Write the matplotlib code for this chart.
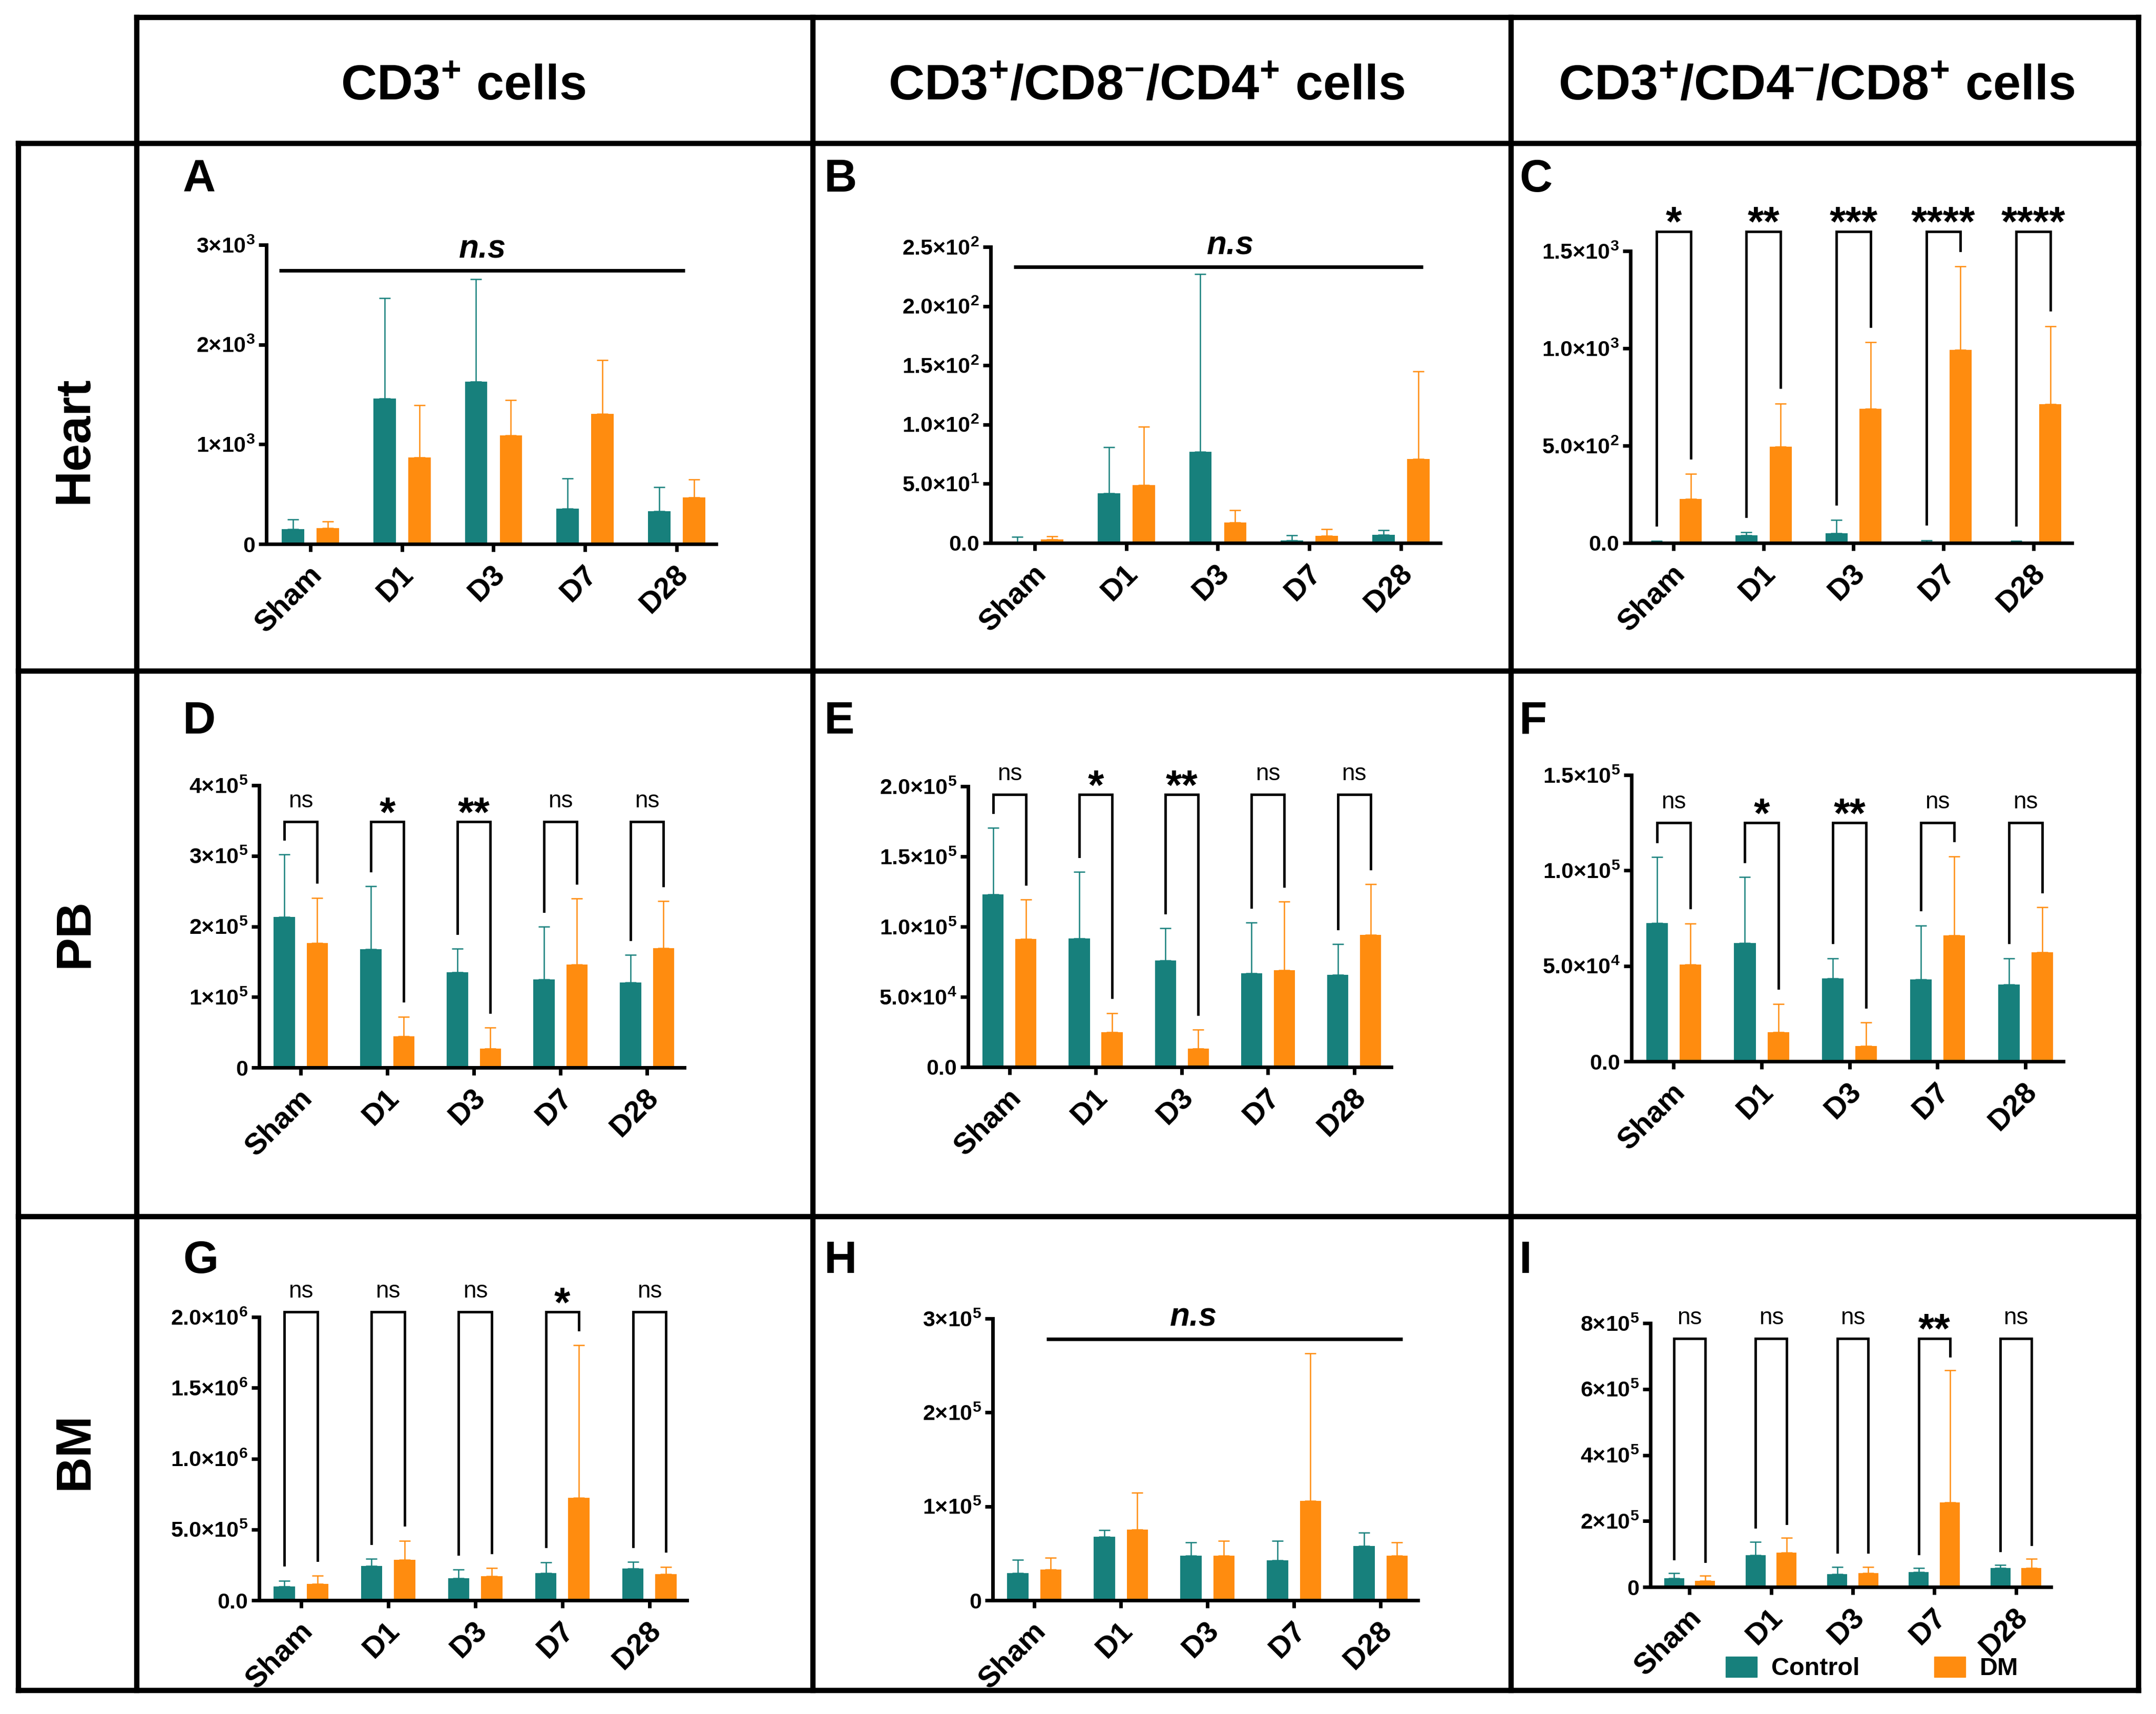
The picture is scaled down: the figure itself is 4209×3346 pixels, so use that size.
import numpy as np
import matplotlib
matplotlib.use('Agg')
import matplotlib.pyplot as plt
from matplotlib.patches import Patch
from matplotlib.transforms import ScaledTranslation

plt.rcParams['font.family'] = ['Liberation Sans', 'DejaVu Sans']
plt.rcParams['font.weight'] = 'bold'
plt.rcParams['mathtext.default'] = 'regular'

W, H = 4209, 3346
teal = '#17807C'
orange = '#FF8C0F'

groups = ['Sham', 'D1', 'D3', 'D7', 'D28']
col_titles = ['CD3$^{+}$ cells', 'CD3$^{+}$/CD8$^{-}$/CD4$^{+}$ cells',
              'CD3$^{+}$/CD4$^{-}$/CD8$^{+}$ cells']
row_titles = ['Heart', 'PB', 'BM']

# ---- data: mean and SD per group (Control / DM) ----
# A  Heart CD3+
a_ctrl = [150, 1460, 1630, 355, 330]
a_ctrl_sd = [95, 1005, 1025, 305, 240]
a_dm = [160, 870, 1090, 1305, 465]
a_dm_sd = [65, 520, 355, 540, 180]
# B  Heart CD4+
b_ctrl = [1, 42, 77, 2, 7]
b_ctrl_sd = [4, 39, 150, 4.5, 4]
b_dm = [3, 49, 17.5, 6, 71]
b_dm_sd = [2.5, 49, 10, 5.5, 74]
# C  Heart CD8+
c_ctrl = [5, 40, 50, 6, 4]
c_ctrl_sd = [5, 15, 68, 8, 6]
c_dm = [225, 494, 690, 992, 713]
c_dm_sd = [129, 223, 341, 429, 401]
# D  PB CD3+
d_ctrl = [213500, 167800, 135000, 125100, 120200]
d_ctrl_sd = [88300, 88900, 33300, 74600, 39300]
d_dm = [176700, 44200, 26500, 145800, 168800]
d_dm_sd = [63800, 27900, 29900, 93700, 66800]
# E  PB CD4+
e_ctrl = [123000, 91600, 76000, 66700, 65700]
e_ctrl_sd = [47400, 47400, 22800, 36300, 22000]
e_dm = [91400, 24900, 13300, 69100, 94300]
e_dm_sd = [27900, 13600, 13400, 48700, 36100]
# F  PB CD8+
f_ctrl = [72550, 62000, 43350, 43000, 40300]
f_ctrl_sd = [34450, 34500, 10550, 28100, 13600]
f_dm = [50600, 15400, 8000, 66000, 57100]
f_dm_sd = [21600, 14700, 12300, 41400, 23600]
# G  BM CD3+
g_ctrl = [99000, 241000, 157000, 193000, 225000]
g_ctrl_sd = [40000, 51000, 59000, 75000, 45000]
g_dm = [117000, 286000, 169000, 724000, 184000]
g_dm_sd = [56000, 134000, 58000, 1076000, 52000]
# H  BM CD4+
h_ctrl = [28800, 67500, 47200, 42400, 57700]
h_ctrl_sd = [14300, 7200, 14600, 21100, 14200]
h_dm = [32900, 75300, 47200, 105900, 47200]
h_dm_sd = [12600, 39100, 16300, 156800, 14600]
# I  BM CD8+
i_ctrl = [27000, 96600, 38600, 45400, 58000]
i_ctrl_sd = [14500, 40600, 22300, 11600, 8700]
i_dm = [19300, 104300, 42500, 256000, 58000]
i_dm_sd = [14500, 44500, 18400, 401000, 27000]

# significance marks
c_sig = ['*', '**', '***', '****', '****']
d_sig = ['ns', '*', '**', 'ns', 'ns']
e_sig = ['ns', '*', '**', 'ns', 'ns']
f_sig = ['ns', '*', '**', 'ns', 'ns']
g_sig = ['ns', 'ns', 'ns', '*', 'ns']
i_sig = ['ns', 'ns', 'ns', '**', 'ns']

# y ticks
a_yticks = [0, 1000, 2000, 3000]
a_ylabels = ['0', '1×10$^{3}$', '2×10$^{3}$', '3×10$^{3}$']
b_yticks = [0, 50, 100, 150, 200, 250]
b_ylabels = ['0.0', '5.0×10$^{1}$', '1.0×10$^{2}$', '1.5×10$^{2}$', '2.0×10$^{2}$', '2.5×10$^{2}$']
c_yticks = [0, 500, 1000, 1500]
c_ylabels = ['0.0', '5.0×10$^{2}$', '1.0×10$^{3}$', '1.5×10$^{3}$']
d_yticks = [0, 1e5, 2e5, 3e5, 4e5]
d_ylabels = ['0', '1×10$^{5}$', '2×10$^{5}$', '3×10$^{5}$', '4×10$^{5}$']
e_yticks = [0, 5e4, 1e5, 1.5e5, 2e5]
e_ylabels = ['0.0', '5.0×10$^{4}$', '1.0×10$^{5}$', '1.5×10$^{5}$', '2.0×10$^{5}$']
f_yticks = [0, 5e4, 1e5, 1.5e5]
f_ylabels = ['0.0', '5.0×10$^{4}$', '1.0×10$^{5}$', '1.5×10$^{5}$']
g_yticks = [0, 5e5, 1e6, 1.5e6, 2e6]
g_ylabels = ['0.0', '5.0×10$^{5}$', '1.0×10$^{6}$', '1.5×10$^{6}$', '2.0×10$^{6}$']
h_yticks = [0, 1e5, 2e5, 3e5]
h_ylabels = ['0', '1×10$^{5}$', '2×10$^{5}$', '3×10$^{5}$']
i_yticks = [0, 2e5, 4e5, 6e5, 8e5]
i_ylabels = ['0', '2×10$^{5}$', '4×10$^{5}$', '6×10$^{5}$', '8×10$^{5}$']

# ---- layout (pixels in the 4209x3346 canvas) ----
# panel: (left, right, top, bottom) of the plotting area
boxes = {
    'A': (520, 1398, 478, 1062), 'B': (1934, 2812, 482, 1060), 'C': (3183, 4045, 490, 1060),
    'D': (506, 1336, 1533, 2084), 'E': (1890, 2716, 1535, 2083), 'F': (3185, 4028, 1513, 2072),
    'G': (506, 1341, 2571, 3124), 'H': (1938, 2768, 2574, 3124), 'I': (3222, 4004, 2583, 3098),
}

panels = [
    ('A', a_ctrl, a_ctrl_sd, a_dm, a_dm_sd, a_yticks, a_ylabels, None, 2741, (-0.34, 4.09, 1.88)),
    ('B', b_ctrl, b_ctrl_sd, b_dm, b_dm_sd, b_yticks, b_ylabels, None, 233, (-0.23, 4.24, 2.14)),
    ('C', c_ctrl, c_ctrl_sd, c_dm, c_dm_sd, c_yticks, c_ylabels, c_sig, 1601, None),
    ('D', d_ctrl, d_ctrl_sd, d_dm, d_dm_sd, d_yticks, d_ylabels, d_sig, 3.485e5, None),
    ('E', e_ctrl, e_ctrl_sd, e_dm, e_dm_sd, e_yticks, e_ylabels, e_sig, 1.941e5, None),
    ('F', f_ctrl, f_ctrl_sd, f_dm, f_dm_sd, f_yticks, f_ylabels, f_sig, 1.25e5, None),
    ('G', g_ctrl, g_ctrl_sd, g_dm, g_dm_sd, g_yticks, g_ylabels, g_sig, 2.036e6, None),
    ('H', h_ctrl, h_ctrl_sd, h_dm, h_dm_sd, h_yticks, h_ylabels, None, 2.783e5, (0.14, 4.25, 1.84)),
    ('I', i_ctrl, i_ctrl_sd, i_dm, i_dm_sd, i_yticks, i_ylabels, i_sig, 7.54e5, None),
]

fig = plt.figure(figsize=(W / 100, H / 100), dpi=100)

# grid of boxes
bg = fig.add_axes([0, 0, 1, 1], zorder=-5)
bg.set_xlim(0, W)
bg.set_ylim(H, 0)
bg.axis('off')
lw_box = 7.5
xl, xh = 36, 4175
for y in [280, 1310, 2375, 3300]:
    bg.plot([xl, xh], [y, y], color='k', lw=lw_box, solid_capstyle='projecting')
bg.plot([267, xh], [34, 34], color='k', lw=lw_box, solid_capstyle='projecting')
bg.plot([xl, xl], [280, 3300], color='k', lw=lw_box, solid_capstyle='projecting')
for x in [267, 1587, 2950, xh]:
    bg.plot([x, x], [34, 3300], color='k', lw=lw_box, solid_capstyle='projecting')

for x, t in zip([905, 2238, 3546], col_titles):
    bg.text(x, 170, t, fontsize=70, ha='center', va='center')
for y, t in zip([859, 1821, 2832], row_titles):
    bg.text(146, y, t, fontsize=70, rotation=90, ha='center', va='center')

letter_x = [357, 1609, 2966]
letter_y = [374, 1432, 2485]

off_x = ScaledTranslation(0.14, 0, fig.dpi_scale_trans)
x = np.arange(len(groups))

for k, (name, ctrl, csd, dm, dsd, yt, yl, sig, top, nsline) in enumerate(panels):
    l, r, t, b = boxes[name]
    ax = fig.add_axes([l / W, 1 - b / H, (r - l) / W, (b - t) / H])
    ax.patch.set_alpha(0)
    ctrl = np.array(ctrl, float)
    dm = np.array(dm, float)
    csd = np.array(csd, float)
    dsd = np.array(dsd, float)
    ekw = dict(elinewidth=1.8, capsize=8, capthick=1.8)
    ax.bar(x - 0.19, ctrl, 0.245, color=teal, yerr=[np.zeros(5), csd],
           error_kw=dict(ecolor=teal, **ekw), zorder=2)
    ax.bar(x + 0.19, dm, 0.245, color=orange, yerr=[np.zeros(5), dsd],
           error_kw=dict(ecolor=orange, **ekw), zorder=2)
    ymax = yt[-1]
    ax.set_xlim(-0.48, 4.43)
    ax.set_ylim(0, ymax)
    for s in ['top', 'right']:
        ax.spines[s].set_visible(False)
    for s in ['left', 'bottom']:
        ax.spines[s].set_linewidth(5)
    ax.tick_params(width=5, length=11, direction='out')
    ax.set_yticks(yt)
    ax.set_yticklabels(yl, fontsize=31)
    ax.tick_params(axis='y', pad=5)
    ax.set_xticks(x)
    ax.set_xticklabels(groups, rotation=45, ha='right', va='center',
                       rotation_mode='anchor', fontsize=42)
    ax.tick_params(axis='x', pad=26)
    for lab in ax.get_xticklabels():
        lab.set_transform(lab.get_transform() + off_x)

    if nsline is not None:
        x0, x1, xt = nsline
        ax.plot([x0, x1], [top, top], color='k', lw=5, clip_on=False, solid_capstyle='butt')
        ax.annotate('n.s', (xt, top), xytext=(0, 18), textcoords='offset points',
                    ha='center', va='baseline', fontsize=46, fontstyle='italic',
                    fontweight='bold', annotation_clip=False)
    else:
        off = 0.055 * ymax
        for i in range(5):
            yl_ = ctrl[i] + csd[i] + off
            yr_ = dm[i] + dsd[i] + off
            ax.plot([i - 0.19, i - 0.19, i + 0.19, i + 0.19], [yl_, top, top, yr_],
                    color='k', lw=3.5, clip_on=False, solid_joinstyle='miter')
            if sig[i] == 'ns':
                ax.annotate('ns', (i, top), xytext=(0, 20), textcoords='offset points',
                            ha='center', va='baseline', fontsize=33, fontweight='normal',
                            annotation_clip=False)
            else:
                ax.annotate(sig[i], (i, top), xytext=(0, -6), textcoords='offset points',
                            ha='center', va='baseline', fontsize=58, fontweight='bold',
                            annotation_clip=False)

    bg.text(letter_x[k % 3], letter_y[k // 3], name, fontsize=64, ha='left', va='baseline')

fig.legend(handles=[Patch(color=teal), Patch(color=orange)], labels=['Control', 'DM'],
           ncol=2, frameon=False, fontsize=35, handlelength=1.25, handleheight=0.9,
           handletextpad=0.58, columnspacing=3.0, loc='center left',
           bbox_to_anchor=(3369 / W, 1 - 3257 / H), borderpad=0, borderaxespad=0)

fig.savefig('out.png', dpi=100)
